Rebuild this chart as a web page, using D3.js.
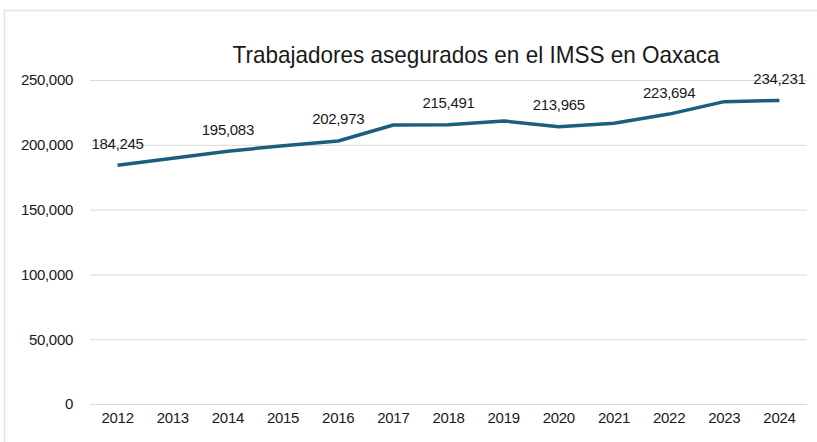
<!DOCTYPE html>
<html>
<head>
<meta charset="utf-8">
<script src="https://cdn.jsdelivr.net/npm/d3@7"></script>
<style>
  body { margin: 0; background: #fff; }
  text { font-family: "Liberation Sans", Arial, sans-serif; fill: #1a1a1a; }
  .grid line { stroke: #d9d9d9; stroke-width: 1; }
  .axis text { font-size: 15px; letter-spacing: -0.3px; }
  .dataLabel { font-size: 15px; letter-spacing: -0.3px; }
</style>
</head>
<body>
<div id="chart"></div>
<script>
// data
const years = ["2012", "2013", "2014", "2015", "2016", "2017", "2018", "2019", "2020", "2021", "2022", "2023", "2024"];
const workers = [184245, 189600, 195083, 199300, 202973, 215300, 215491, 218400, 213965, 216600, 223694, 233300, 234231];
const labelledYears = ["2012", "2014", "2016", "2018", "2020", "2022", "2024"];
const yTicks = [0, 50000, 100000, 150000, 200000, 250000];
const titleText = "Trabajadores asegurados en el IMSS en Oaxaca";

const W = 817, H = 442;
const margin = {top: 80, right: 10, bottom: 38, left: 90};
const plotW = W - margin.left - margin.right,
    plotH = H - margin.top - margin.bottom;

const svg = d3.select("#chart").append("svg")
    .attr("width", W)
    .attr("height", H);

// outer chart frame (only top and left edges are visible)
svg.append("path")
    .attr("d", "M4.5," + H + "V10.5H" + W)
    .attr("fill", "none")
    .attr("stroke", "#e3e3e3")
    .attr("stroke-width", 1.5);

svg.append("text")
    .attr("x", 476)
    .attr("y", 63)
    .attr("text-anchor", "middle")
    .attr("textLength", 487)
    .attr("lengthAdjust", "spacingAndGlyphs")
    .style("font-size", "24px")
    .text(titleText);

const g = svg.append("g")
    .attr("transform", "translate(" + margin.left + "," + margin.top + ")");

let x = d3.scaleBand()
    .domain(years)
    .range([0, plotW]);

let y = d3.scaleLinear()
    .domain([0, 250000])
    .range([plotH, 0]);

// gridlines
g.append("g")
    .attr("class", "grid")
    .call(d3.axisLeft(y).tickValues(yTicks).tickSize(-plotW).tickFormat(""))
    .call(s => s.select(".domain").remove());

// y axis labels
g.append("g")
    .attr("class", "axis")
    .call(d3.axisLeft(y).tickValues(yTicks).tickSize(0).tickPadding(17).tickFormat(d3.format(",")))
    .call(s => s.select(".domain").remove());

// x axis labels
g.append("g")
    .attr("class", "axis")
    .attr("transform", "translate(0," + plotH + ")")
    .call(d3.axisBottom(x).tickSize(0).tickPadding(8))
    .call(s => s.select(".domain").remove());

const line = d3.line()
    .x((d, i) => x(years[i]) + x.bandwidth() / 2)
    .y(d => y(d));

g.append("path")
    .datum(workers)
    .attr("fill", "none")
    .attr("stroke", "#1b5f7f")
    .attr("stroke-width", 3.5)
    .attr("stroke-linejoin", "round")
    .attr("d", line);

g.selectAll(".dataLabel")
    .data(years.map((yr, i) => ({year: yr, value: workers[i]})).filter(d => labelledYears.includes(d.year)))
    .enter()
    .append("text")
    .attr("class", "dataLabel")
    .attr("text-anchor", "middle")
    .attr("dominant-baseline", "central")
    .attr("x", d => x(d.year) + x.bandwidth() / 2)
    .attr("y", d => y(d.value) - 22)
    .text(d => d3.format(",")(d.value));
</script>
</body>
</html>
